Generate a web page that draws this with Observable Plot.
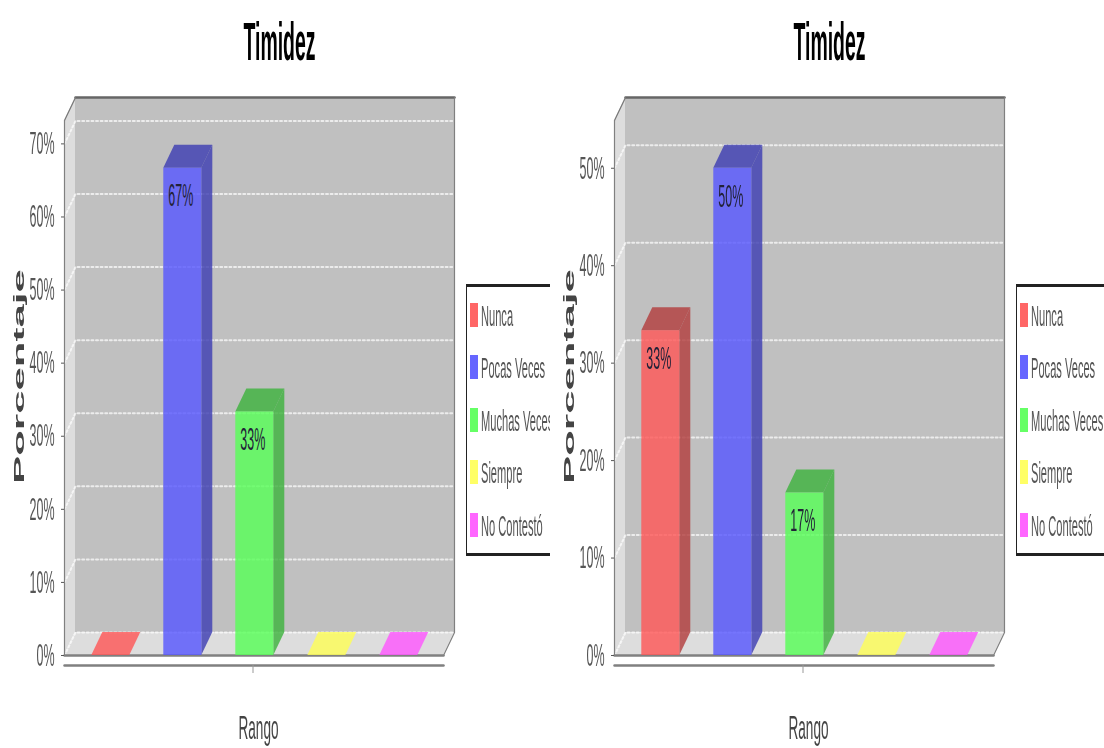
<!DOCTYPE html>
<html><head><meta charset="utf-8">
<script src="https://cdn.jsdelivr.net/npm/d3@7"></script>
<script src="https://cdn.jsdelivr.net/npm/@observablehq/plot@0.6"></script>
<style>
html,body{margin:0;padding:0;background:#fff;width:1104px;height:748px;overflow:hidden}
#root{position:relative;width:1104px;height:748px;font-family:"Liberation Sans",sans-serif;filter:blur(.5px)}
.chart{position:absolute;top:0;height:748px;overflow:hidden}
.chart svg{display:block;background:transparent}
.legend{position:absolute;left:466px;top:284px;width:140px;height:266px;border-top:3px solid #222;border-bottom:3px solid #222;border-left:1.5px solid #222;box-sizing:content-box}
.item{position:absolute;left:2.5px;height:24px}
.sw{position:absolute;left:0;top:0;width:8px;height:24px;opacity:.9}
.lb{position:absolute;left:11px;top:-2px;font-size:30px;line-height:30px;color:#555;white-space:nowrap;transform:scaleX(.37);transform-origin:0 0}
</style></head>
<body><div id="root"></div>
<script>
const categorias = ["Nunca","Pocas Veces","Muchas Veces","Siempre","No Contestó"];
const colores = ["#ff5555","#5555ff","#55ff55","#ffff55","#ff55ff"];
const oscuros = ["#b23b3b","#3b3bb2","#3bb23b","#b2b23b","#b23bb2"];
const valoresIzq = [0,66.67,33.33,0,0];
const valoresDer = [33.33,50,16.67,0,0];
const etiquetasIzq = ["","67%","33%","",""];
const etiquetasDer = ["33%","50%","17%","",""];
const ticksIzq = [0,10,20,30,40,50,60,70];
const ticksDer = [0,10,20,30,40,50];
const titulo = "Timidez", ejeX = "Rango", ejeY = "Porcentaje";

const L=64, T=120, B=655, FW=379, STEP=72, BW=38, OFF=27.3, DX=11, DY=23;

function chart(left,width,valores,etiquetas,ticks,top){
  const ppu=(B-T)/top, ypx=p=>(B-p)/ppu, xpx=p=>(p-L)/STEP;
  const W=FW/STEP, d=DX/STEP, dy=DY/ppu, bw=BW/STEP, off=OFF/STEP;
  const rows=categorias.map((c,i)=>({c,i,v:valores[i],l:etiquetas[i],x0:off+i,x1:off+i+bw,col:colores[i],dk:oscuros[i]}));
  const topFace=r=>[{y:r.v,a:r.x0,b:r.x1},{y:r.v+dy,a:r.x0+d,b:r.x1+d}];
  const sideFace=r=>[{x:r.x1,y1:0,y2:r.v},{x:r.x1+d,y1:dy,y2:r.v+dy}];
  const marks=[
    Plot.rect([{}],{x1:d,x2:W+d,y1:dy,y2:top+dy,fill:"#c0c0c0"}),
    Plot.areaY([{x:0,y1:0,y2:top},{x:d,y1:dy,y2:top+dy}],{x:"x",y1:"y1",y2:"y2",fill:"#dddddd"}),
    Plot.areaX([{y:0,a:0,b:W},{y:dy,a:d,b:W+d}],{y:"y",x1:"a",x2:"b",fill:"#dddddd"})
  ];
  ticks.forEach(t=>{
    marks.push(Plot.line([[0,t],[d,t+dy],[W+d,t+dy]],{stroke:"#fff",strokeWidth:2,strokeDasharray:"2,2.6",strokeOpacity:.7}));
  });
  marks.push(Plot.line([[d,top+dy],[W+d,top+dy]],{stroke:"#666",strokeWidth:2.5}));
  marks.push(Plot.line([[0,top],[d,top+dy]],{stroke:"#777",strokeWidth:1.2}));
  marks.push(Plot.line([[0,top],[0,0],[W,0],[W+d,dy],[W+d,top+dy]],{stroke:"#808080",strokeWidth:1.2}));
  marks.push(Plot.line([[0,0],[W,0]],{stroke:"#808080",strokeWidth:2.5}));
  rows.forEach(r=>{
    marks.push(Plot.areaX(topFace(r),{y:"y",x1:"a",x2:"b",fill:r.v>0?r.dk:r.col,fillOpacity:.8}));
    if(r.v>0){
      marks.push(Plot.areaY(sideFace(r),{x:"x",y1:"y1",y2:"y2",fill:r.dk,fillOpacity:.8}));
      marks.push(Plot.rect([r],{x1:"x0",x2:"x1",y1:0,y2:"v",fill:r.col,fillOpacity:.8}));
    }
  });
  marks.push(Plot.text(rows.filter(r=>r.v>0),{x:r=>r.x0+bw/2,y:"v",text:"l",dx:-2,dy:28,fontSize:32,fill:"#222238"}));
  marks.push(Plot.line([[0,ypx(665)],[W,ypx(665)]],{stroke:"#808080",strokeWidth:2.5}));
  marks.push(Plot.ruleX([xpx(252.5)],{y1:ypx(665),y2:ypx(673),stroke:"#999"}));
  marks.push(Plot.axisY(ticks,{anchor:"left",tickSize:3,tickPadding:7,tickFormat:d=>d+"%",label:null,fontSize:32,color:"#555"}));
  marks.push(Plot.text([titulo],{x:xpx(279),y:ypx(42),fontSize:54,fontWeight:"bold",fill:"#000"}));
  marks.push(Plot.text([ejeX],{x:xpx(258),y:ypx(728),fontSize:34,fill:"#444"}));
  marks.push(Plot.text([ejeY],{x:xpx(18.5),y:ypx(376),rotate:-90,fontSize:15,fontWeight:"bold",fill:"#444"}));

  const svg=Plot.plot({
    width,height:748,marginLeft:L,marginRight:width-L-FW,marginTop:T,marginBottom:748-B,
    x:{domain:[0,W],axis:null},
    y:{domain:[0,top],axis:null},
    style:{fontFamily:'"Liberation Sans",sans-serif',background:"transparent",overflow:"visible"},
    marks
  });
  svg.querySelectorAll("text").forEach(t=>{
    const s=t.textContent;
    const sx=s===ejeY?2.8:s===titulo?0.36:s===ejeX?0.4:0.39;
    const tr=t.getAttribute("transform")||"";
    t.setAttribute("transform",`${tr} scale(${sx},1)`);
  });
  const box=document.createElement("div");
  box.className="chart";box.style.left=left+"px";box.style.width=width+"px";
  box.appendChild(svg);
  const leg=document.createElement("div");leg.className="legend";
  categorias.forEach((c,i)=>{
    const it=document.createElement("div");it.className="item";it.style.top=(16+i*52.4)+"px";
    const sw=document.createElement("div");sw.className="sw";sw.style.background=colores[i];
    const lb=document.createElement("div");lb.className="lb";lb.textContent=c;
    it.append(sw,lb);leg.appendChild(it);
  });
  box.appendChild(leg);
  document.getElementById("root").appendChild(box);
}
chart(0,550,valoresIzq,etiquetasIzq,ticksIzq,73.2);
chart(550,554,valoresDer,etiquetasDer,ticksDer,54.9);
</script></body></html>
